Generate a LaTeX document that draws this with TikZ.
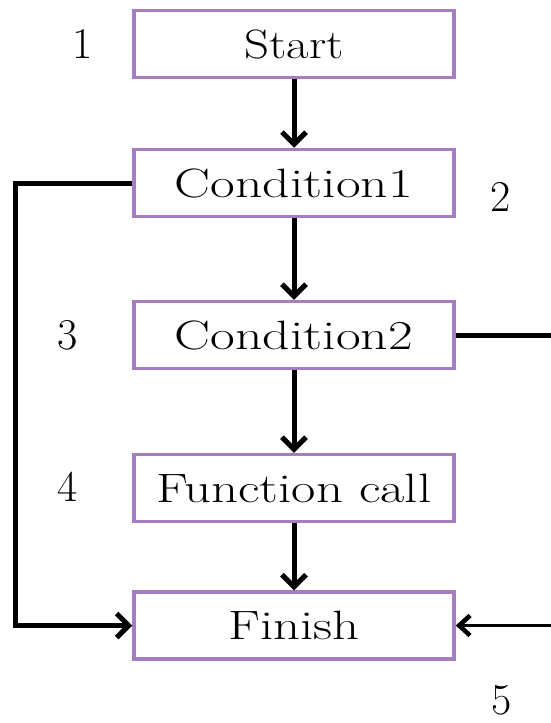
\documentclass[tikz,border=0pt]{standalone}
\usepackage{fontspec}
\usetikzlibrary{arrows.meta}
\definecolor{boxpurple}{RGB}{166,125,190}
\newcommand{\widetext}[2][1.29]{\scalebox{#1}[1]{#2}}
\tikzset{
  flowbox/.style={draw=boxpurple, line width=3.5pt, fill=white,
    minimum width=320pt, minimum height=67pt, inner sep=0pt,
    font=\fontsize{41pt}{49pt}\selectfont},
  numlabel/.style={inner sep=0pt, font=\fontsize{44pt}{52pt}\selectfont},
  flowarrow/.style={line width=5pt, -{Straight Barb[length=12pt,width=24pt]}},
  flowline/.style={line width=5pt},
  thinarrow/.style={line width=3pt, -{Straight Barb[length=11pt,width=20pt,line width=4.5pt]}}
}
\begin{document}
\begin{tikzpicture}[x=1pt,y=1pt]
\useasboundingbox (0,0) rectangle (551,-723);
\node[flowbox] (start) at (294,-44)    {\widetext[1.19]{Start}};
\node[flowbox] (c1)    at (294,-183)   {\widetext[1.31]{Condition1}};
\node[flowbox] (c2)    at (294,-335)   {\widetext[1.31]{Condition2}};
\node[flowbox] (fc)    at (294,-488)   {\widetext{Function call}};
\node[flowbox] (fin)   at (294,-625.5) {\widetext{Finish}};

\node[numlabel] (n1) at (83,-43.5) {1};
\node[numlabel] (n2) at (501,-197) {2};
\node[numlabel] (n3) at (67.5,-335) {3};
\node[numlabel] (n4) at (67.5,-487) {4};
\node[numlabel] (n5) at (502,-700) {5};

\coordinate (lcorner) at (15,-183);
\coordinate (rend2) at (560,-335);
\coordinate (rstart) at (560,-625.5);

\draw[flowarrow] (start.south) -- (c1.north);
\draw[flowarrow] (c1.south) -- (c2.north);
\draw[flowarrow] (c2.south) -- (fc.north);
\draw[flowarrow] (fc.south) -- (fin.north);

\draw[flowarrow, line join=miter] (c1.west) -- (lcorner) |- (fin.west);
\draw[flowline] (c2.east) -- (rend2);
\draw[thinarrow] (rstart) -- (fin.east);
\end{tikzpicture}
\end{document}
